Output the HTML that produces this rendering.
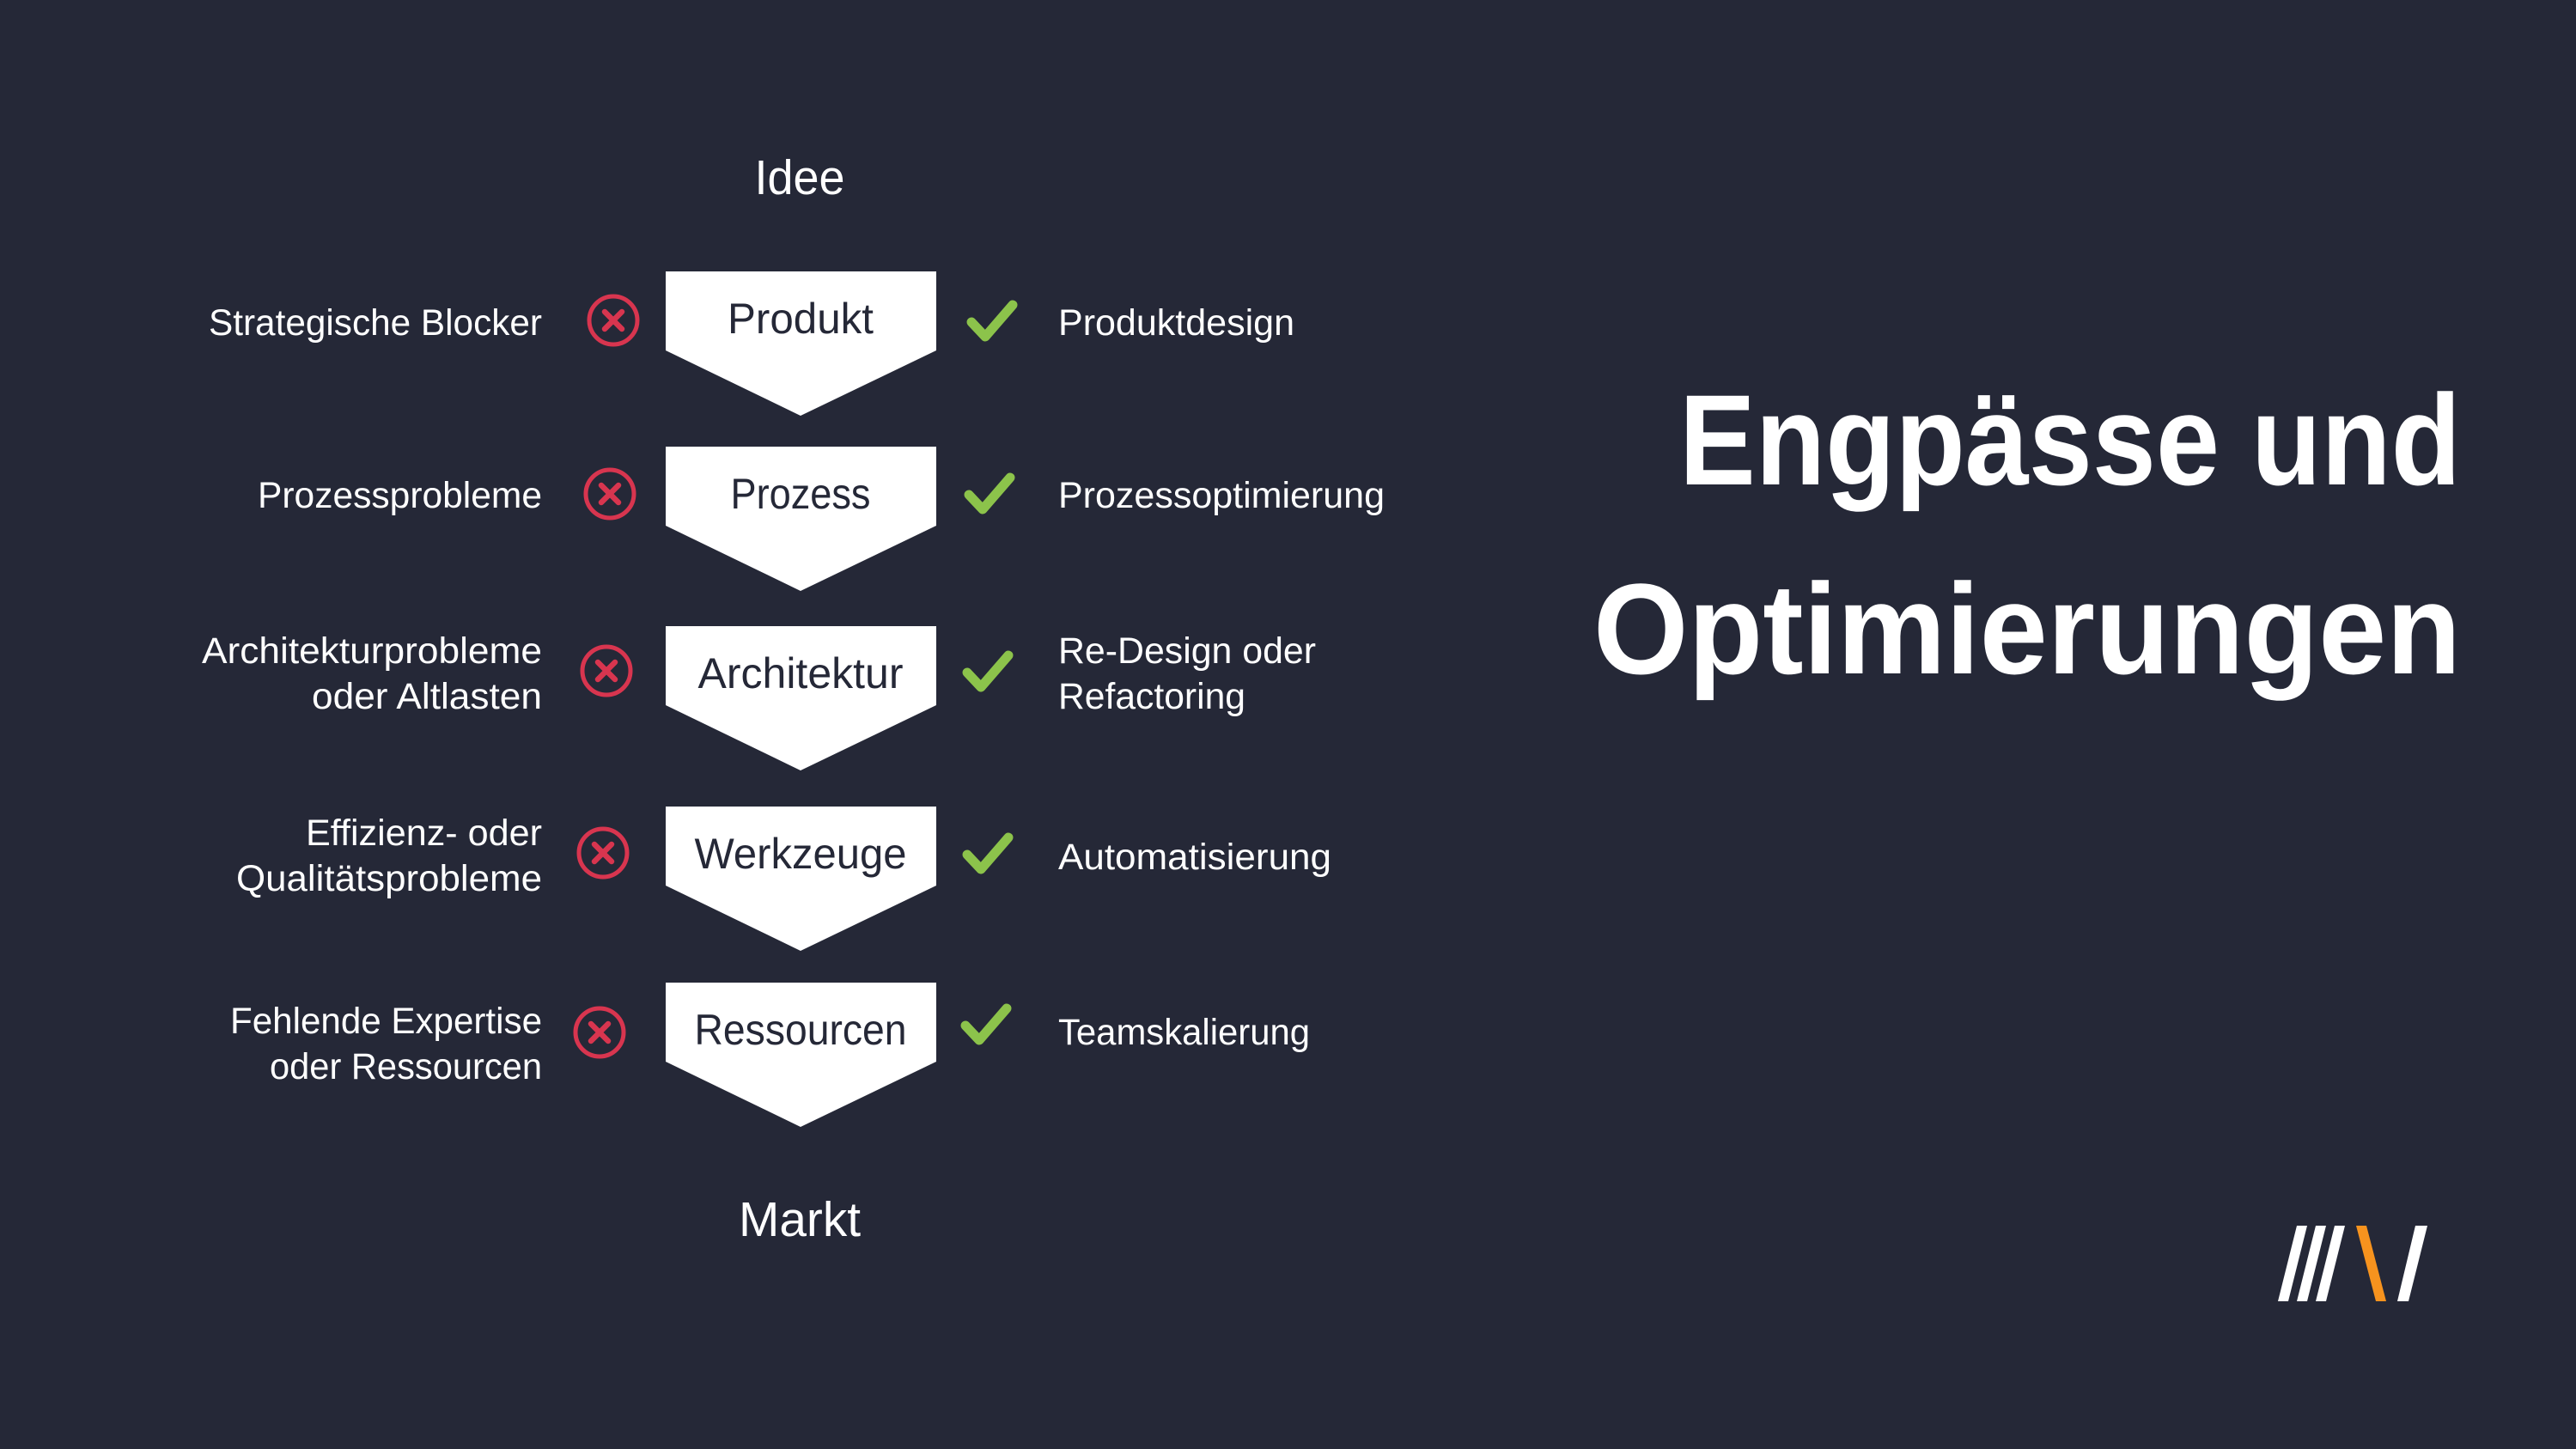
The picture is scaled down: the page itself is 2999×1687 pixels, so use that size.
<!DOCTYPE html>
<html><head><meta charset="utf-8"><style>
html,body{margin:0;padding:0;background:#252837;}
svg{display:block;}
text{font-family:"Liberation Sans",sans-serif;}
</style></head><body>
<svg width="2999" height="1687" viewBox="0 0 2999 1687" xmlns="http://www.w3.org/2000/svg">
<rect width="2999" height="1687" fill="#252837"/>
<defs>
<g id="x"><circle cx="0" cy="0" r="28" fill="none" stroke="#d8354f" stroke-width="5"/><path d="M-10 -10L10 10M10 -10L-10 10" stroke="#d8354f" stroke-width="6.5" stroke-linecap="round"/></g>
<g id="c"><polyline points="-24,2 -8,19 24,-18" fill="none" stroke="#8cc34b" stroke-width="11" stroke-linecap="round" stroke-linejoin="round"/></g>
</defs>
<g fill="#fff" font-size="57">
<text x="931" y="226" text-anchor="middle" textLength="105" lengthAdjust="spacingAndGlyphs">Idee</text>
<text x="931" y="1439" text-anchor="middle" textLength="142" lengthAdjust="spacingAndGlyphs">Markt</text>
</g>
<g fill="#fff">
<polygon points="775,316 1090,316 1090,408 932,484 775,408"/>
<polygon points="775,520 1090,520 1090,612 932,688 775,612"/>
<polygon points="775,729 1090,729 1090,821 932,897 775,821"/>
<polygon points="775,939 1090,939 1090,1031 932,1107 775,1031"/>
<polygon points="775,1144 1090,1144 1090,1236 932,1312 775,1236"/>
</g>
<g fill="#252837" font-size="50" text-anchor="middle">
<text x="932" y="388" textLength="170" lengthAdjust="spacingAndGlyphs">Produkt</text>
<text x="932" y="592" textLength="163" lengthAdjust="spacingAndGlyphs">Prozess</text>
<text x="932" y="801" textLength="239" lengthAdjust="spacingAndGlyphs">Architektur</text>
<text x="932" y="1011" textLength="247" lengthAdjust="spacingAndGlyphs">Werkzeuge</text>
<text x="932" y="1216" textLength="247" lengthAdjust="spacingAndGlyphs">Ressourcen</text>
</g>
<g fill="#fff" font-size="43" text-anchor="end">
<text x="631" y="390" textLength="388" lengthAdjust="spacingAndGlyphs">Strategische Blocker</text>
<text x="631" y="591" textLength="331" lengthAdjust="spacingAndGlyphs">Prozessprobleme</text>
<text x="631" y="772" textLength="396" lengthAdjust="spacingAndGlyphs">Architekturprobleme</text>
<text x="631" y="825" textLength="268" lengthAdjust="spacingAndGlyphs">oder Altlasten</text>
<text x="631" y="984" textLength="275" lengthAdjust="spacingAndGlyphs">Effizienz- oder</text>
<text x="631" y="1037" textLength="356" lengthAdjust="spacingAndGlyphs">Qualitätsprobleme</text>
<text x="631" y="1203" textLength="363" lengthAdjust="spacingAndGlyphs">Fehlende Expertise</text>
<text x="631" y="1256" textLength="317" lengthAdjust="spacingAndGlyphs">oder Ressourcen</text>
</g>
<g fill="#fff" font-size="43">
<text x="1232" y="390" textLength="275" lengthAdjust="spacingAndGlyphs">Produktdesign</text>
<text x="1232" y="591" textLength="380" lengthAdjust="spacingAndGlyphs">Prozessoptimierung</text>
<text x="1232" y="772" textLength="300" lengthAdjust="spacingAndGlyphs">Re-Design oder</text>
<text x="1232" y="825" textLength="218" lengthAdjust="spacingAndGlyphs">Refactoring</text>
<text x="1232" y="1012" textLength="318" lengthAdjust="spacingAndGlyphs">Automatisierung</text>
<text x="1232" y="1216" textLength="293" lengthAdjust="spacingAndGlyphs">Teamskalierung</text>
</g>
<use href="#x" x="714" y="373"/>
<use href="#x" x="710" y="575"/>
<use href="#x" x="706" y="781"/>
<use href="#x" x="702" y="993"/>
<use href="#x" x="698" y="1202"/>
<use href="#c" x="1155" y="373"/>
<use href="#c" x="1152" y="574"/>
<use href="#c" x="1150" y="781"/>
<use href="#c" x="1150" y="993"/>
<use href="#c" x="1148" y="1192"/>
<g fill="#fff" font-size="150" font-weight="bold" text-anchor="end">
<text x="2865" y="564" textLength="910" lengthAdjust="spacingAndGlyphs">Engpässe und</text>
<text x="2865" y="784" textLength="1010" lengthAdjust="spacingAndGlyphs">Optimierungen</text>
</g>
<g fill="#fff">
<polygon points="2674,1427 2686,1427 2664,1515 2652,1515"/>
<polygon points="2696,1427 2708,1427 2686,1515 2674,1515"/>
<polygon points="2718,1427 2730,1427 2708,1515 2696,1515"/>
<polygon points="2812,1427 2826,1427 2804,1515 2791,1515"/>
</g>
<polygon points="2743,1427 2755,1427 2778,1515 2766,1515" fill="#f7931e"/>
</svg>
</body></html>
